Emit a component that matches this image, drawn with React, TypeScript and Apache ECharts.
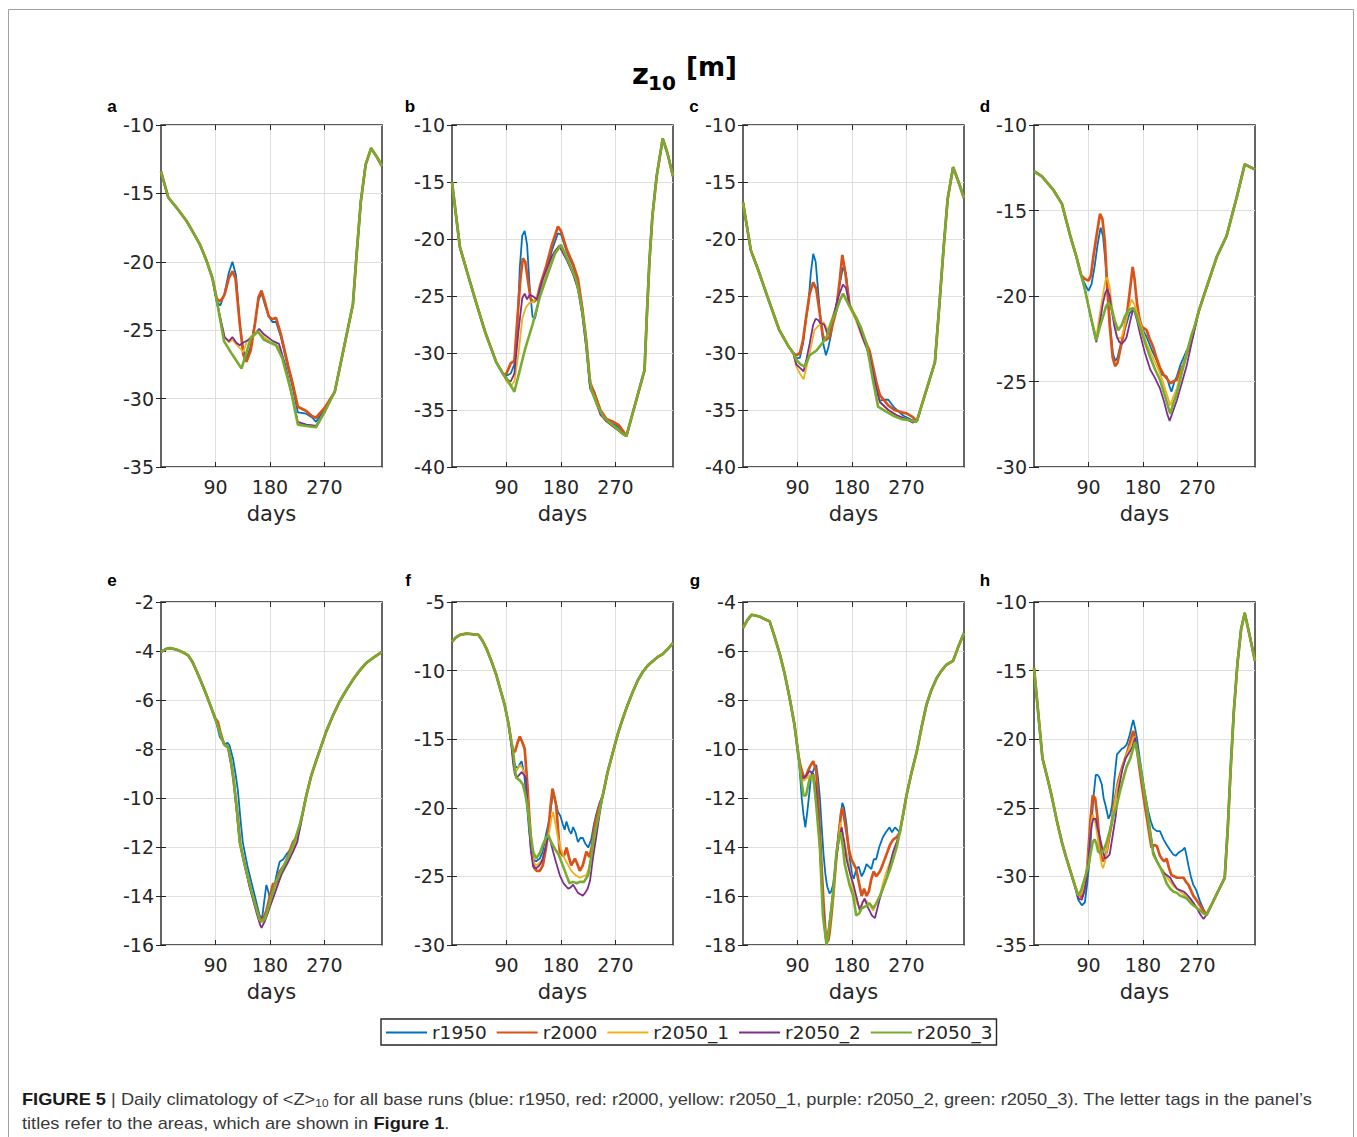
import React, { useEffect, useRef } from 'react'
import * as echarts from 'echarts'

// runs and styling
const RUNS = ['r1950', 'r2000', 'r2050_1', 'r2050_2', 'r2050_3']
const RUN_COLORS = ['#0072BD', '#D95319', '#EDB120', '#7E2F8E', '#77AC30']
const RUN_WIDTHS = [1.8, 2.7, 1.8, 1.8, 2.6]

const PANEL_TAGS = ['a', 'b', 'c', 'd', 'e', 'f', 'g', 'h']
const Y_MIN = [-35, -40, -40, -30, -16, -30, -18, -35]
const Y_MAX = [-10, -10, -10, -10, -2, -5, -4, -10]
const Y_STEP = [5, 5, 5, 5, 2, 5, 2, 5]
const DAY_TICKS = [90, 180, 270]

// ---- panel a ----
const A_HEAD = [[0, -13.4], [12, -15.3], [25, -16.0], [42, -17.0], [55, -18.0], [65, -18.8], [75, -19.9], [85, -21.2]]
const A_TAIL = [[287, -29.5], [317, -23.1], [323, -19.5], [330, -15.6], [338, -12.9], [347, -11.7], [356, -12.3], [365, -13.0]]
const A_MIDS = [
  [[92, -22.9], [98, -23.2], [105, -22.3], [112, -20.8], [118, -20.0], [124, -21.0], [130, -24.5], [136, -26.5], [141, -27.1], [148, -26.2], [155, -24.5], [161, -22.8], [166, -22.3], [172, -23.2], [178, -24.0], [184, -24.4], [190, -24.4], [198, -25.5], [210, -27.8], [218, -29.3], [226, -31.0], [240, -31.1], [250, -31.4], [256, -31.7], [270, -30.8]],
  [[92, -22.7], [98, -22.9], [105, -22.4], [112, -21.2], [118, -20.7], [123, -21.2], [130, -24.5], [136, -26.8], [141, -27.3], [148, -26.5], [155, -24.6], [161, -22.6], [166, -22.1], [172, -23.0], [178, -24.0], [184, -24.2], [190, -24.1], [198, -25.3], [210, -27.6], [218, -29.0], [226, -30.6], [240, -30.9], [250, -31.3], [256, -31.4], [270, -30.7]],
  [[92, -22.9], [100, -24.5], [105, -25.5], [112, -25.9], [118, -25.7], [124, -26.0], [130, -26.3], [136, -26.6], [142, -25.8], [150, -25.4], [160, -25.1], [170, -25.5], [185, -26.0], [195, -26.2], [205, -27.6], [215, -29.6], [226, -31.8], [240, -31.9], [256, -32.0], [270, -31.0]],
  [[92, -22.9], [100, -24.5], [105, -25.5], [112, -25.8], [118, -25.5], [124, -25.9], [130, -26.1], [136, -25.9], [145, -25.7], [155, -25.3], [162, -24.9], [170, -25.3], [185, -25.8], [195, -26.0], [205, -27.5], [215, -29.5], [226, -31.7], [240, -31.9], [256, -32.0], [270, -31.0]],
  [[92, -22.8], [104, -25.8], [118, -26.8], [133, -27.8], [140, -26.8], [148, -25.6], [160, -25.1], [170, -25.7], [190, -26.1], [200, -27.0], [215, -29.5], [226, -31.9], [240, -32.0], [256, -32.1], [270, -31.0]],
]

// ---- panel b ----
const B_HEAD = [[0, -15.0], [13, -20.7], [25, -22.9], [40, -25.6], [55, -28.2], [73, -30.8], [85, -31.9]]
const B_TAIL = [[288, -37.3], [318, -31.5], [322, -26.5], [326, -22.0], [331, -18.0], [338, -14.5], [348, -11.2], [356, -12.5], [365, -14.5]]
const B_MIDS = [
  [[90, -32.0], [97, -31.8], [103, -31.0], [108, -27.5], [112, -22.5], [116, -19.7], [120, -19.3], [124, -20.5], [128, -24.0], [133, -26.8], [137, -27.0], [141, -26.0], [146, -24.5], [155, -23.0], [165, -21.0], [175, -19.5], [180, -19.6], [190, -21.2], [200, -22.4], [208, -23.7], [215, -26.0], [222, -29.2], [228, -32.8], [235, -33.4], [245, -35.1], [255, -35.9], [265, -36.2], [275, -36.5], [282, -37.0]],
  [[90, -31.8], [97, -30.9], [103, -30.7], [108, -27.0], [113, -23.5], [117, -21.7], [121, -22.0], [125, -23.5], [130, -25.3], [135, -25.5], [140, -25.3], [146, -24.0], [155, -22.5], [165, -20.5], [175, -18.9], [180, -19.3], [190, -21.0], [200, -22.2], [208, -23.5], [215, -26.0], [222, -29.0], [228, -32.6], [235, -33.5], [245, -35.0], [255, -35.8], [265, -36.0], [275, -36.3], [282, -36.8]],
  [[90, -32.5], [97, -32.9], [103, -32.5], [110, -30.0], [116, -27.0], [122, -26.0], [128, -25.6], [135, -25.5], [145, -24.5], [160, -22.3], [170, -21.0], [178, -20.6], [190, -21.8], [200, -23.0], [208, -24.3], [215, -26.5], [222, -29.6], [228, -33.0], [235, -33.8], [245, -35.3], [255, -36.0], [265, -36.4], [275, -36.8], [282, -37.1]],
  [[90, -32.3], [97, -32.5], [103, -31.8], [110, -28.0], [116, -25.2], [120, -24.8], [124, -25.3], [128, -24.9], [133, -25.0], [140, -25.3], [150, -23.5], [165, -21.5], [177, -20.6], [190, -21.9], [200, -23.1], [208, -24.4], [215, -26.6], [222, -29.7], [228, -33.1], [235, -33.9], [245, -35.4], [255, -36.0], [265, -36.4], [275, -36.8], [282, -37.1]],
  [[90, -32.2], [103, -33.4], [112, -31.5], [120, -29.8], [133, -27.5], [145, -25.1], [160, -22.8], [170, -21.3], [180, -20.5], [195, -22.3], [205, -23.6], [213, -25.6], [220, -28.2], [226, -31.6], [230, -33.2], [240, -34.6], [250, -35.6], [260, -36.1], [272, -36.6], [282, -37.1]],
]

// ---- panel c ----
const C_HEAD = [[0, -16.8], [13, -21.0], [25, -22.7], [40, -25.0], [60, -28.0], [75, -29.4], [83, -30.0]]
const C_TAIL = [[287, -36.0], [317, -30.8], [324, -26.0], [331, -21.0], [338, -16.5], [347, -13.7], [356, -15.0], [365, -16.4]]
const C_MIDS = [
  [[88, -30.5], [94, -30.4], [99, -29.2], [104, -27.0], [108, -25.7], [112, -23.0], [116, -21.3], [120, -22.0], [124, -24.5], [128, -27.0], [133, -29.3], [137, -30.2], [141, -29.5], [145, -28.5], [150, -26.8], [155, -25.5], [160, -23.9], [165, -22.5], [170, -23.0], [176, -25.9], [187, -27.0], [195, -28.3], [205, -29.6], [215, -32.0], [226, -34.2], [233, -34.1], [240, -34.1], [250, -34.8], [265, -35.5], [280, -35.9]],
  [[88, -30.2], [94, -30.0], [99, -28.9], [105, -26.6], [110, -24.8], [116, -23.8], [121, -24.4], [127, -26.6], [132, -28.5], [136, -28.9], [143, -28.6], [148, -27.5], [154, -26.3], [160, -23.5], [164, -21.4], [168, -22.6], [176, -25.8], [187, -27.0], [195, -28.1], [209, -29.8], [220, -32.5], [226, -33.7], [240, -34.6], [250, -35.0], [262, -35.2], [270, -35.3], [280, -35.6]],
  [[88, -31.2], [94, -31.8], [100, -32.3], [105, -31.2], [110, -30.0], [118, -28.0], [125, -27.6], [133, -27.3], [140, -28.0], [150, -26.5], [160, -25.3], [166, -24.8], [176, -26.0], [187, -27.2], [198, -28.8], [209, -30.2], [220, -33.0], [226, -34.3], [240, -35.0], [255, -35.5], [270, -35.8], [280, -36.0]],
  [[88, -31.0], [94, -31.3], [100, -31.6], [105, -30.5], [110, -29.2], [116, -27.5], [120, -27.0], [124, -27.1], [128, -27.4], [134, -27.5], [140, -28.4], [148, -27.0], [158, -25.0], [165, -24.0], [170, -24.3], [176, -25.8], [187, -27.0], [198, -28.7], [209, -30.2], [220, -33.0], [226, -34.3], [240, -35.0], [255, -35.5], [270, -35.8], [280, -36.1]],
  [[88, -30.6], [95, -31.0], [102, -31.2], [110, -30.2], [121, -29.8], [130, -29.2], [138, -28.6], [146, -27.3], [154, -26.3], [160, -25.4], [165, -24.8], [175, -25.8], [187, -26.9], [195, -27.8], [204, -29.2], [215, -32.5], [223, -34.7], [235, -35.1], [248, -35.5], [262, -35.8], [275, -35.9], [282, -36.0]],
]

// ---- panel d ----
const D_HEAD = [[0, -12.7], [13, -13.0], [32, -13.8], [46, -14.6], [60, -16.5], [70, -17.7], [78, -18.8]]
const D_TAIL = [[272, -20.9], [285, -19.5], [302, -17.7], [318, -16.5], [335, -14.2], [348, -12.3], [365, -12.6]]
const D_MIDS = [
  [[84, -19.3], [90, -19.7], [95, -19.3], [100, -18.3], [105, -17.0], [110, -16.0], [114, -16.5], [118, -18.0], [122, -20.0], [126, -21.8], [130, -23.3], [134, -23.8], [138, -23.6], [142, -23.0], [148, -22.2], [153, -21.6], [158, -21.0], [164, -20.8], [168, -21.0], [172, -21.4], [180, -22.0], [186, -22.4], [195, -23.2], [203, -23.8], [211, -24.6], [219, -24.7], [224, -25.3], [227, -25.6], [232, -25.0], [236, -24.7], [242, -24.0], [247, -23.6], [252, -23.2], [258, -22.8], [265, -21.8]],
  [[84, -19.0], [90, -19.1], [94, -18.8], [98, -17.7], [104, -16.3], [109, -15.2], [113, -15.5], [117, -16.8], [121, -19.5], [125, -21.7], [130, -23.6], [134, -24.1], [138, -23.9], [142, -23.2], [148, -22.2], [153, -21.2], [158, -19.8], [163, -18.3], [166, -19.0], [170, -20.4], [174, -21.3], [178, -21.8], [186, -22.0], [191, -22.5], [197, -23.0], [203, -23.7], [208, -24.2], [214, -24.6], [219, -24.8], [225, -25.1], [230, -25.0], [236, -24.9], [241, -24.4], [247, -24.0], [252, -23.4], [258, -22.8], [265, -21.9]],
  [[84, -19.6], [90, -20.6], [97, -21.7], [103, -22.4], [108, -21.2], [114, -19.9], [118, -19.1], [121, -18.9], [125, -19.5], [128, -20.4], [133, -21.6], [137, -22.4], [141, -22.5], [145, -22.4], [150, -21.7], [155, -21.0], [161, -20.2], [166, -20.5], [172, -21.2], [180, -22.1], [186, -22.8], [195, -23.5], [203, -24.1], [211, -24.8], [219, -25.7], [225, -26.4], [230, -25.9], [236, -25.4], [245, -24.2], [252, -23.3], [260, -22.3], [265, -21.8]],
  [[84, -19.6], [90, -20.6], [97, -21.8], [103, -22.7], [108, -21.7], [114, -20.4], [118, -19.8], [121, -19.6], [125, -20.0], [128, -20.8], [133, -21.8], [137, -22.4], [141, -22.7], [145, -22.8], [150, -22.6], [153, -22.4], [158, -21.6], [164, -20.7], [170, -21.4], [175, -22.2], [183, -23.3], [192, -24.3], [200, -24.8], [208, -25.4], [215, -26.2], [220, -26.9], [224, -27.3], [228, -26.9], [236, -26.1], [244, -25.1], [252, -24.1], [260, -22.8], [265, -22.0]],
  [[84, -19.6], [90, -20.6], [97, -21.7], [103, -22.6], [108, -21.9], [114, -21.2], [119, -20.6], [123, -20.4], [128, -20.7], [133, -21.4], [139, -22.0], [145, -21.7], [150, -21.2], [157, -20.8], [164, -20.7], [170, -21.2], [175, -21.8], [183, -22.7], [192, -23.6], [200, -24.3], [208, -24.9], [216, -25.8], [225, -26.9], [230, -26.3], [236, -25.7], [244, -24.5], [252, -23.4], [260, -22.3], [265, -21.8]],
]

// ---- panel e ----
const E_HEAD = [[0, -4.04], [8, -3.92], [15, -3.88], [26, -3.95], [36, -4.05], [45, -4.18], [52, -4.45], [59, -4.83], [67, -5.3], [75, -5.79], [82, -6.25]]
const E_TAIL = [[240, -9.9], [248, -9.1], [256, -8.5], [265, -7.85], [273, -7.28], [284, -6.63], [295, -6.06], [306, -5.6], [317, -5.17], [328, -4.8], [339, -4.49], [352, -4.25], [365, -4.04]]
const E_MIDS = [
  [[89, -6.67], [97, -7.5], [105, -7.8], [110, -7.75], [113, -7.85], [119, -8.4], [123, -9.0], [127, -9.7], [131, -10.8], [135, -11.8], [143, -12.8], [152, -13.7], [158, -14.3], [163, -14.8], [167, -14.9], [170, -14.3], [174, -13.55], [177, -13.8], [180, -14.1], [184, -13.8], [188, -13.5], [192, -13.0], [196, -12.6], [202, -12.5], [207, -12.3], [214, -12.1], [221, -11.9], [229, -11.2], [235, -10.5]],
  [[89, -6.72], [94, -6.9], [98, -7.3], [104, -7.8], [111, -7.95], [116, -8.6], [120, -9.3], [126, -10.6], [131, -11.9], [140, -12.9], [148, -13.7], [156, -14.4], [163, -14.9], [168, -15.0], [174, -14.6], [180, -14.0], [185, -13.5], [190, -13.5], [196, -13.0], [205, -12.7], [212, -12.2], [218, -11.8], [224, -11.6], [229, -11.2], [235, -10.5]],
  [[89, -6.74], [100, -7.56], [105, -7.83], [111, -7.94], [119, -9.05], [130, -11.8], [146, -13.5], [158, -14.6], [164, -15.1], [168, -15.0], [175, -14.8], [183, -14.2], [190, -13.7], [200, -13.1], [212, -12.5], [220, -12.0], [229, -11.2], [235, -10.5]],
  [[89, -6.74], [100, -7.56], [105, -7.83], [111, -7.94], [119, -9.05], [130, -11.8], [146, -13.6], [158, -14.7], [164, -15.2], [166, -15.3], [172, -15.0], [179, -14.5], [188, -13.9], [199, -13.1], [208, -12.7], [218, -12.2], [225, -11.8], [229, -11.3], [235, -10.5]],
  [[89, -6.74], [95, -7.15], [100, -7.56], [105, -7.83], [111, -7.94], [115, -8.4], [119, -9.05], [125, -10.4], [130, -11.8], [138, -12.7], [146, -13.5], [155, -14.3], [163, -14.98], [168, -15.05], [172, -14.9], [177, -14.5], [184, -13.9], [190, -13.4], [200, -12.9], [212, -12.3], [220, -11.8], [229, -11.1], [235, -10.5]],
]

// ---- panel f ----
const F_HEAD = [[0, -7.9], [6, -7.6], [13, -7.4], [24, -7.3], [35, -7.35], [44, -7.4], [50, -7.8], [57, -8.4], [65, -9.3], [73, -10.3], [80, -11.4], [87, -12.5], [93, -13.8]]
const F_TAIL = [[249, -19.1], [257, -17.4], [266, -15.9], [274, -14.6], [282, -13.5], [290, -12.5], [299, -11.5], [307, -10.7], [315, -10.1], [324, -9.6], [332, -9.3], [340, -9.0], [348, -8.8], [357, -8.4], [365, -8.0]]
const F_MIDS = [
  [[98, -15.3], [101, -16.4], [105, -17.0], [109, -17.1], [112, -16.8], [115, -16.6], [119, -17.5], [123, -19.3], [127, -21.5], [131, -23.2], [135, -23.8], [139, -23.9], [145, -23.7], [150, -23.2], [155, -22.0], [161, -20.8], [164, -19.8], [167, -18.8], [171, -19.6], [175, -20.3], [179, -20.6], [183, -21.2], [186, -21.6], [189, -21.0], [194, -21.7], [197, -21.9], [200, -21.4], [204, -21.8], [208, -22.5], [212, -22.2], [216, -22.2], [220, -22.6], [225, -22.9], [230, -22.3], [234, -21.3], [238, -20.5], [244, -19.6]],
  [[98, -15.2], [101, -15.9], [104, -15.9], [108, -15.3], [112, -14.8], [116, -15.2], [120, -15.7], [124, -18.0], [128, -20.8], [132, -23.3], [136, -24.4], [140, -24.6], [145, -24.6], [150, -24.2], [155, -23.0], [159, -21.7], [163, -19.8], [166, -18.6], [169, -19.2], [172, -19.8], [175, -21.5], [178, -23.2], [183, -23.5], [186, -23.4], [189, -22.9], [193, -23.6], [197, -24.2], [203, -23.7], [207, -24.1], [211, -24.6], [216, -24.2], [222, -23.2], [227, -23.6], [231, -22.8], [236, -21.2], [242, -20.1]],
  [[98, -15.4], [101, -16.5], [104, -17.4], [108, -17.2], [112, -16.9], [116, -17.1], [122, -17.8], [126, -20.0], [131, -23.2], [135, -24.0], [139, -24.2], [145, -24.0], [150, -23.7], [155, -22.7], [161, -21.7], [164, -20.8], [167, -20.3], [171, -21.2], [175, -22.2], [180, -23.0], [186, -23.7], [192, -24.2], [197, -24.6], [204, -24.9], [211, -25.1], [216, -25.0], [222, -24.9], [226, -24.4], [230, -23.9], [234, -22.8], [238, -22.0], [244, -20.2]],
  [[98, -15.4], [101, -16.8], [104, -17.6], [107, -17.8], [111, -17.6], [115, -17.4], [119, -17.6], [122, -17.8], [126, -20.5], [130, -23.0], [134, -24.3], [139, -24.4], [142, -24.3], [146, -24.1], [150, -23.7], [155, -22.8], [159, -22.0], [163, -22.5], [167, -23.2], [172, -24.0], [178, -24.9], [183, -25.4], [186, -25.6], [192, -25.9], [196, -25.8], [200, -25.6], [204, -25.9], [208, -26.2], [212, -26.3], [216, -26.4], [220, -26.2], [224, -25.9], [228, -25.3], [233, -23.6], [238, -22.2], [244, -20.4]],
  [[98, -15.2], [101, -15.9], [104, -17.2], [106, -17.8], [112, -18.0], [117, -18.3], [121, -19.0], [125, -20.0], [130, -22.0], [134, -23.2], [139, -23.7], [145, -23.3], [150, -22.7], [155, -22.2], [159, -22.0], [164, -22.5], [170, -23.0], [176, -23.4], [183, -24.2], [188, -24.8], [194, -25.5], [200, -25.4], [206, -25.5], [211, -25.4], [218, -25.4], [225, -24.9], [229, -23.8], [233, -22.5], [241, -20.8]],
]

// ---- panel g ----
const G_HEAD = [[0, -5.06], [7, -4.75], [14, -4.52], [27, -4.59], [36, -4.7], [44, -4.79], [52, -5.4], [61, -6.15], [69, -6.95], [77, -7.92], [85, -9.01]]
const G_TAIL = [[270, -11.9], [278, -11.0], [287, -10.1], [295, -9.1], [303, -8.2], [311, -7.6], [320, -7.1], [328, -6.8], [336, -6.56], [347, -6.4], [356, -5.8], [365, -5.27]]
const G_MIDS = [
  [[91, -10.1], [94, -11.0], [97, -12.0], [100, -12.7], [103, -13.2], [106, -12.6], [110, -11.7], [113, -11.0], [116, -10.9], [119, -10.7], [121, -10.65], [124, -11.2], [127, -12.0], [130, -13.2], [133, -14.3], [136, -15.1], [139, -15.6], [143, -15.9], [146, -15.8], [149, -15.5], [152, -14.9], [155, -14.1], [158, -13.4], [161, -12.8], [164, -12.2], [167, -12.4], [171, -13.1], [174, -14.0], [177, -14.6], [180, -15.1], [183, -15.3], [187, -14.9], [191, -14.8], [196, -15.2], [200, -15.0], [204, -14.7], [208, -14.8], [212, -14.9], [216, -14.5], [220, -14.5], [225, -14.0], [231, -13.6], [236, -13.4], [242, -13.2], [246, -13.4], [251, -13.2], [255, -13.3], [259, -13.4], [265, -12.6]],
  [[91, -10.2], [95, -10.7], [99, -11.05], [103, -11.2], [107, -10.9], [111, -10.7], [116, -10.5], [121, -10.9], [124, -12.0], [127, -13.4], [130, -14.9], [133, -16.3], [136, -17.4], [138, -17.9], [141, -17.8], [143, -17.5], [146, -16.8], [149, -16.0], [152, -15.1], [155, -14.2], [159, -13.3], [162, -12.6], [164, -12.4], [167, -12.8], [171, -13.4], [175, -14.1], [179, -14.5], [183, -14.7], [187, -14.9], [191, -15.4], [196, -16.0], [200, -15.7], [204, -16.0], [208, -15.8], [212, -15.3], [216, -15.0], [220, -15.2], [226, -15.0], [231, -14.7], [237, -14.3], [243, -13.9], [248, -13.7], [254, -13.6], [259, -13.4], [265, -12.6]],
  [[91, -10.2], [96, -11.1], [100, -11.3], [105, -11.2], [110, -11.05], [116, -11.3], [121, -12.0], [127, -14.05], [132, -16.6], [136, -17.6], [138, -17.9], [142, -17.2], [149, -16.0], [155, -14.3], [161, -13.0], [165, -13.5], [171, -14.2], [177, -15.0], [182, -15.8], [188, -16.3], [193, -16.5], [198, -16.2], [204, -16.2], [210, -16.4], [215, -16.6], [220, -16.3], [226, -16.0], [231, -15.5], [237, -15.0], [243, -14.6], [248, -14.2], [254, -13.8], [259, -13.4], [265, -12.6]],
  [[91, -10.2], [95, -11.0], [99, -11.2], [104, -11.1], [110, -10.9], [116, -11.0], [121, -11.7], [124, -12.8], [127, -14.05], [132, -16.4], [136, -17.6], [138, -17.9], [141, -17.5], [145, -16.6], [149, -15.8], [154, -14.5], [159, -13.6], [163, -13.2], [167, -13.8], [171, -14.5], [177, -15.1], [182, -15.5], [188, -16.1], [193, -16.6], [197, -16.3], [201, -16.1], [205, -16.4], [209, -16.6], [213, -16.8], [218, -16.9], [222, -16.5], [226, -16.1], [231, -15.7], [237, -15.3], [243, -14.7], [248, -14.2], [254, -13.8], [259, -13.4], [265, -12.6]],
  [[91, -10.1], [96, -11.2], [100, -11.9], [104, -11.9], [110, -11.2], [116, -11.05], [121, -12.3], [127, -14.05], [132, -16.8], [138, -18.0], [143, -17.2], [149, -15.8], [154, -14.3], [158, -13.7], [161, -13.4], [165, -14.0], [168, -14.7], [176, -15.55], [182, -16.0], [187, -16.8], [192, -16.7], [196, -16.5], [204, -16.4], [209, -16.3], [215, -16.5], [220, -16.3], [226, -16.0], [231, -15.7], [237, -15.3], [243, -14.9], [248, -14.5], [254, -14.0], [259, -13.4], [265, -12.6]],
]

// ---- panel h ----
const H_HEAD = [[0, -14.8], [14, -21.4], [22, -22.8], [29, -24.1], [38, -26.0], [46, -27.5], [53, -28.6], [60, -29.6], [67, -30.6]]
const H_TAIL = [[285, -32.8], [315, -30.1], [320, -26.5], [325, -22.0], [330, -18.0], [336, -14.5], [342, -12.0], [348, -10.8], [356, -12.4], [365, -14.3]]
const H_MIDS = [
  [[73, -31.7], [79, -32.1], [84, -31.9], [88, -30.5], [92, -28.7], [95, -26.3], [98, -24.3], [102, -22.6], [105, -22.6], [108, -22.8], [112, -23.3], [115, -24.3], [118, -24.8], [121, -25.4], [123, -25.8], [126, -25.5], [129, -24.8], [133, -22.8], [137, -21.1], [141, -20.9], [145, -20.7], [149, -20.6], [153, -20.4], [158, -19.7], [161, -19.1], [164, -18.6], [167, -19.2], [170, -19.9], [174, -21.2], [178, -22.4], [183, -23.9], [189, -25.3], [193, -26.0], [197, -26.5], [203, -26.7], [208, -26.7], [214, -27.3], [219, -27.7], [225, -28.1], [230, -28.4], [234, -28.5], [238, -28.3], [241, -28.2], [245, -28.1], [249, -27.9], [252, -28.5], [255, -29.2], [259, -30.0], [263, -30.6], [268, -31.0], [274, -31.8], [280, -32.4]],
  [[73, -31.4], [79, -31.5], [83, -30.8], [87, -29.9], [90, -28.0], [93, -26.0], [97, -24.1], [101, -24.3], [105, -25.8], [109, -27.9], [112, -28.7], [115, -28.9], [120, -28.2], [124, -27.2], [128, -26.2], [133, -24.5], [139, -23.1], [146, -22.0], [153, -21.1], [158, -20.3], [164, -19.4], [168, -20.2], [172, -21.4], [177, -23.0], [183, -24.8], [189, -26.5], [194, -27.9], [199, -27.7], [203, -27.8], [208, -28.5], [211, -28.7], [215, -28.9], [219, -28.7], [223, -29.4], [227, -29.9], [232, -30.0], [236, -30.1], [242, -30.1], [247, -30.1], [251, -30.4], [255, -30.6], [259, -31.0], [263, -31.4], [268, -31.7], [274, -32.1], [280, -32.5]],
  [[73, -31.5], [79, -31.2], [84, -30.3], [88, -29.2], [92, -27.4], [95, -26.0], [97, -25.5], [100, -25.8], [104, -26.8], [108, -28.2], [112, -29.2], [114, -29.4], [118, -28.8], [122, -27.6], [127, -26.3], [131, -25.3], [137, -23.6], [143, -22.6], [149, -21.6], [155, -20.9], [161, -20.3], [166, -19.8], [170, -20.5], [175, -21.8], [180, -23.4], [186, -25.0], [191, -26.6], [197, -28.2], [203, -28.9], [208, -29.3], [214, -29.6], [219, -30.0], [225, -30.4], [230, -30.7], [236, -30.9], [241, -31.1], [247, -31.3], [252, -31.5], [258, -31.8], [263, -32.0], [269, -32.3], [275, -32.5], [280, -32.7]],
  [[73, -31.6], [79, -31.7], [84, -31.0], [88, -29.7], [92, -27.5], [95, -26.3], [98, -25.8], [102, -25.8], [105, -26.5], [109, -27.2], [113, -28.0], [117, -28.7], [121, -28.6], [125, -28.4], [130, -27.0], [135, -25.6], [140, -23.6], [146, -22.2], [151, -21.4], [157, -21.0], [162, -20.6], [167, -19.9], [171, -20.8], [175, -21.9], [182, -23.8], [189, -25.8], [193, -27.0], [197, -28.2], [203, -28.9], [208, -29.3], [213, -29.7], [219, -29.9], [225, -30.1], [230, -30.5], [236, -30.9], [241, -31.0], [247, -31.1], [252, -31.3], [258, -31.6], [263, -31.9], [269, -32.3], [275, -32.8], [280, -33.1]],
  [[73, -31.4], [78, -31.0], [82, -30.4], [86, -29.8], [90, -29.2], [94, -28.2], [97, -27.5], [100, -27.3], [103, -27.6], [106, -28.2], [110, -28.3], [114, -28.2], [120, -27.5], [125, -26.7], [131, -25.6], [137, -24.8], [142, -23.8], [148, -22.8], [153, -22.0], [159, -21.4], [163, -20.8], [167, -20.2], [171, -21.0], [175, -21.9], [180, -23.2], [186, -24.8], [191, -26.5], [197, -28.4], [203, -28.9], [208, -29.3], [214, -29.9], [219, -30.5], [225, -30.9], [230, -31.1], [236, -31.2], [241, -31.4], [247, -31.5], [252, -31.6], [258, -31.9], [263, -32.1], [269, -32.3], [275, -32.5], [280, -32.7]],
]

const PANELS = [
  { head: A_HEAD, mids: A_MIDS, tail: A_TAIL },
  { head: B_HEAD, mids: B_MIDS, tail: B_TAIL },
  { head: C_HEAD, mids: C_MIDS, tail: C_TAIL },
  { head: D_HEAD, mids: D_MIDS, tail: D_TAIL },
  { head: E_HEAD, mids: E_MIDS, tail: E_TAIL },
  { head: F_HEAD, mids: F_MIDS, tail: F_TAIL },
  { head: G_HEAD, mids: G_MIDS, tail: G_TAIL },
  { head: H_HEAD, mids: H_MIDS, tail: H_TAIL },
]

// layout (page pixels)
const COL_LEFT = [161, 452, 743, 1034]
const ROW_TOP = [125, 602]
const PLOT_W = 221
const PLOT_H = [342, 343]
const TAG_POS = [[112, 106], [410, 106], [694, 106], [985, 106], [112, 580], [408, 580], [695, 580], [985, 580]]

const INK = '#262626'
const GRID_LINE = '#dfdfdf'
const AXIS_FONT = 'DejaVu Sans'

function buildOption() {
  const grid: any[] = []
  const xAxis: any[] = []
  const yAxis: any[] = []
  const series: any[] = []
  const graphic: any[] = []

  PANELS.forEach((panel, i) => {
    const col = i % 4
    const row = Math.floor(i / 4)
    grid.push({
      left: COL_LEFT[col], top: ROW_TOP[row], width: PLOT_W, height: PLOT_H[row],
      show: true, borderColor: INK, borderWidth: 1.4, backgroundColor: '#fff',
      containLabel: false, outerBoundsMode: 'none',
    })
    const tick = { show: true, inside: true, length: 5, lineStyle: { color: INK, width: 1 } }
    xAxis.push({
      type: 'value', gridIndex: i, position: 'bottom', min: 0, max: 365,
      axisLine: { show: false },
      axisTick: { ...tick, customValues: DAY_TICKS },
      axisLabel: { customValues: DAY_TICKS, fontSize: 19, color: INK, fontFamily: AXIS_FONT, margin: 10 },
      splitLine: { show: true, lineStyle: { color: GRID_LINE, width: 1 } },
      name: 'days', nameLocation: 'middle', nameGap: 36,
      nameTextStyle: { fontSize: 21, color: INK, fontFamily: AXIS_FONT },
    })
    xAxis.push({
      type: 'value', gridIndex: i, position: 'top', min: 0, max: 365,
      axisLine: { show: false },
      axisTick: { ...tick, customValues: DAY_TICKS },
      axisLabel: { show: false },
      splitLine: { show: false },
    })
    yAxis.push({
      type: 'value', gridIndex: i, position: 'left', min: Y_MIN[i], max: Y_MAX[i], interval: Y_STEP[i],
      axisLine: { show: false },
      axisTick: tick,
      axisLabel: { fontSize: 19, color: INK, fontFamily: AXIS_FONT, margin: 7 },
      splitLine: { show: true, lineStyle: { color: GRID_LINE, width: 1 } },
    })
    yAxis.push({
      type: 'value', gridIndex: i, position: 'right', min: Y_MIN[i], max: Y_MAX[i], interval: Y_STEP[i],
      axisLine: { show: false },
      axisTick: tick,
      axisLabel: { show: false },
      splitLine: { show: false },
    })
    RUNS.forEach((run, r) => {
      series.push({
        type: 'line', name: run, xAxisIndex: 2 * i, yAxisIndex: 2 * i,
        data: [...panel.head, ...panel.mids[r], ...panel.tail],
        showSymbol: false, symbol: 'none', silent: true,
        lineStyle: { color: RUN_COLORS[r], width: RUN_WIDTHS[r] },
        itemStyle: { color: RUN_COLORS[r] },
        z: 3,
      })
    })
    graphic.push({
      type: 'text', x: TAG_POS[i][0], y: TAG_POS[i][1], silent: true,
      style: {
        text: PANEL_TAGS[i], fill: '#000', font: 'bold 17px "Liberation Sans"',
        align: 'center', verticalAlign: 'middle',
      },
    })
  })

  // outer figure frame
  graphic.push({
    type: 'rect', silent: true, z: -10,
    shape: { x: 8.5, y: 9.5, width: 1345, height: 1200 },
    style: { fill: 'none', stroke: '#a0a0a0', lineWidth: 1 },
  })
  // title z_10 [m]
  graphic.push({ type: 'text', x: 632, y: 74, silent: true, style: { text: 'z', fill: '#000', font: 'bold 29px "DejaVu Sans"', align: 'left', verticalAlign: 'middle' } })
  graphic.push({ type: 'text', x: 648, y: 83, silent: true, style: { text: '10', fill: '#000', font: 'bold 20px "DejaVu Sans"', align: 'left', verticalAlign: 'middle' } })
  graphic.push({ type: 'text', x: 686, y: 67, silent: true, style: { text: '[m]', fill: '#000', font: 'bold 26px "DejaVu Sans"', align: 'left', verticalAlign: 'middle' } })

  // caption
  const capRich = {
    b: { fontWeight: 'bold', fill: '#1a1a1a', fontSize: 17, fontFamily: 'Liberation Sans', lineHeight: 20 },
    n: { fill: '#3a3a3a', fontSize: 17, fontFamily: 'Liberation Sans', lineHeight: 20 },
    s: { fill: '#3a3a3a', fontSize: 11, fontFamily: 'Liberation Sans', lineHeight: 10, verticalAlign: 'bottom' },
  }
  graphic.push({
    type: 'text', x: 22, y: 1099, scaleX: 1.072, silent: true,
    style: {
      text: '{b|FIGURE 5}{n| | Daily climatology of <Z>}{s|10}{n| for all base runs (blue: r1950, red: r2000, yellow: r2050_1, purple: r2050_2, green: r2050_3). The letter tags in the panel\u2019s}',
      rich: capRich, align: 'left', verticalAlign: 'middle',
    },
  })
  graphic.push({
    type: 'text', x: 22, y: 1123, scaleX: 1.072, silent: true,
    style: {
      text: '{n|titles refer to the areas, which are shown in }{b|Figure 1}{n|.}',
      rich: capRich, align: 'left', verticalAlign: 'middle',
    },
  })

  return {
    animation: false,
    backgroundColor: '#fff',
    grid, xAxis, yAxis, series, graphic,
    legend: {
      data: RUNS, left: 381, top: 1019, orient: 'horizontal',
      icon: 'rect', itemWidth: 41, itemHeight: 2, itemGap: 10,
      padding: [4, 4, 3, 5], borderColor: INK, borderWidth: 1.4, backgroundColor: '#fff',
      selectedMode: false,
      textStyle: { fontSize: 18.5, color: INK, fontFamily: AXIS_FONT },
    },
  }
}

const App: React.FC = () => {
  const chartRef = useRef<HTMLDivElement>(null)

  useEffect(() => {
    if (!chartRef.current) return
    const chart = echarts.init(chartRef.current, undefined, { renderer: 'svg' })
    chart.setOption(buildOption() as any)
    return () => {
      chart.dispose()
    }
  }, [])

  return (
    <div
      ref={chartRef}
      style={{ position: 'absolute', left: 0, top: 0, width: 1357, height: 1137, background: '#fff' }}
    />
  )
}

export default App
